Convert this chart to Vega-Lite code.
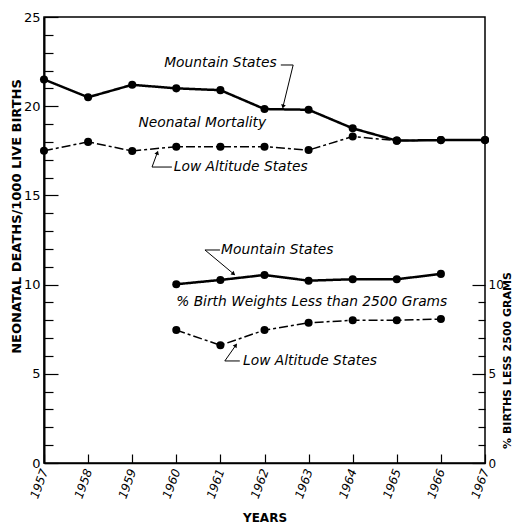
{
  "$schema": "https://vega.github.io/schema/vega-lite/v6.json",
  "width": 441,
  "height": 446,
  "autosize": {"type": "none"},
  "padding": {"left": 44, "top": 17, "right": 28, "bottom": 63},
  "background": "white",
  "config": {
    "view": {"stroke": "black", "strokeWidth": 1.5},
    "font": "DejaVu Sans",
    "axis": {"grid": false, "labelOverlap": false, "labelFlush": false, "domainColor": "black", "tickColor": "black", "labelColor": "black", "titleColor": "black", "labelFont": "DejaVu Sans", "titleFont": "DejaVu Sans"}
  },
  "datasets": {
    "neo": [
      {"year": 1957, "value": 21.5, "series": "Mountain States"},
      {"year": 1958, "value": 20.5, "series": "Mountain States"},
      {"year": 1959, "value": 21.2, "series": "Mountain States"},
      {"year": 1960, "value": 21.0, "series": "Mountain States"},
      {"year": 1961, "value": 20.9, "series": "Mountain States"},
      {"year": 1962, "value": 19.84, "series": "Mountain States"},
      {"year": 1963, "value": 19.8, "series": "Mountain States"},
      {"year": 1964, "value": 18.76, "series": "Mountain States"},
      {"year": 1965, "value": 18.07, "series": "Mountain States"},
      {"year": 1966, "value": 18.1, "series": "Mountain States"},
      {"year": 1967, "value": 18.1, "series": "Mountain States"},
      {"year": 1957, "value": 17.5, "series": "Low Altitude States"},
      {"year": 1958, "value": 18.0, "series": "Low Altitude States"},
      {"year": 1959, "value": 17.49, "series": "Low Altitude States"},
      {"year": 1960, "value": 17.73, "series": "Low Altitude States"},
      {"year": 1961, "value": 17.73, "series": "Low Altitude States"},
      {"year": 1962, "value": 17.73, "series": "Low Altitude States"},
      {"year": 1963, "value": 17.54, "series": "Low Altitude States"},
      {"year": 1964, "value": 18.3, "series": "Low Altitude States"},
      {"year": 1965, "value": 18.07, "series": "Low Altitude States"},
      {"year": 1966, "value": 18.1, "series": "Low Altitude States"},
      {"year": 1967, "value": 18.1, "series": "Low Altitude States"}
    ],
    "pct": [
      {"year": 1960, "value": 10.02, "series": "Mountain States"},
      {"year": 1961, "value": 10.26, "series": "Mountain States"},
      {"year": 1962, "value": 10.54, "series": "Mountain States"},
      {"year": 1963, "value": 10.22, "series": "Mountain States"},
      {"year": 1964, "value": 10.3, "series": "Mountain States"},
      {"year": 1965, "value": 10.3, "series": "Mountain States"},
      {"year": 1966, "value": 10.6, "series": "Mountain States"},
      {"year": 1960, "value": 7.45, "series": "Low Altitude States"},
      {"year": 1961, "value": 6.6, "series": "Low Altitude States"},
      {"year": 1962, "value": 7.45, "series": "Low Altitude States"},
      {"year": 1963, "value": 7.86, "series": "Low Altitude States"},
      {"year": 1964, "value": 8.0, "series": "Low Altitude States"},
      {"year": 1965, "value": 8.0, "series": "Low Altitude States"},
      {"year": 1966, "value": 8.07, "series": "Low Altitude States"}
    ],
    "notes": [
      {"year": 1961.0, "value": 22.42, "label": "Mountain States"},
      {"year": 1960.59, "value": 19.06, "label": "Neonatal Mortality"},
      {"year": 1961.46, "value": 16.59, "label": "Low Altitude States"},
      {"year": 1962.29, "value": 11.94, "label": "Mountain States"},
      {"year": 1963.07, "value": 9.02, "label": "% Birth Weights Less than 2500 Grams"},
      {"year": 1963.03, "value": 5.72, "label": "Low Altitude States"}
    ],
    "leaders": [
      {"year": 1962.37, "value": 22.31, "year2": 1962.65, "value2": 22.31, "tip": false},
      {"year": 1962.42, "value": 19.98, "year2": 1962.65, "value2": 22.31, "tip": true},
      {"year": 1959.9, "value": 16.59, "year2": 1959.45, "value2": 16.59, "tip": false},
      {"year": 1959.57, "value": 17.4, "year2": 1959.45, "value2": 16.59, "tip": true},
      {"year": 1960.99, "value": 11.94, "year2": 1960.65, "value2": 11.94, "tip": false},
      {"year": 1961.3, "value": 10.6, "year2": 1960.65, "value2": 11.94, "tip": true},
      {"year": 1961.44, "value": 5.72, "year2": 1961.1, "value2": 5.72, "tip": false},
      {"year": 1961.35, "value": 6.6, "year2": 1961.1, "value2": 5.72, "tip": true}
    ]
  },
  "encoding": {
    "x": {
      "field": "year", "type": "quantitative",
      "scale": {"domain": [1957, 1967], "nice": false, "zero": false},
      "axis": {
        "values": [1957, 1958, 1959, 1960, 1961, 1962, 1963, 1964, 1965, 1966, 1967],
        "format": "d", "labelAngle": -70, "labelAlign": "right", "labelBaseline": "middle",
        "tickSize": -9, "labelPadding": 15, "labelFontStyle": "italic", "labelFontSize": 12,
        "title": "YEARS", "titleFontSize": 12, "titleFontWeight": "bold", "titlePadding": 13,
        "domainWidth": 1.5, "tickWidth": 1.2
      }
    }
  },
  "layer": [
    {
      "encoding": {
        "y": {
          "field": "value", "type": "quantitative",
          "scale": {"domain": [0, 25], "nice": false},
          "axis": {
            "orient": "left",
            "values": [0, 1, 2, 3, 4, 5, 6, 7, 8, 9, 10, 11, 12, 13, 14, 15, 16, 17, 18, 19, 20, 21, 22, 23, 24, 25],
            "labelExpr": "datum.value % 5 === 0 ? datum.label : ''",
            "labelOverlap": false,
            "tickSize": {"condition": {"test": "datum.value % 5 === 0", "value": -14}, "value": -9},
            "labelPadding": 18, "labelFontSize": 13,
            "title": "NEONATAL DEATHS/1000 LIVE BIRTHS", "titleFontSize": 13, "titleFontWeight": "bold",
            "titleX": -28, "titleY": 199, "titleAlign": "center", "titleBaseline": "middle",
            "domainWidth": 2, "tickWidth": 1.2
          }
        }
      },
      "layer": [
        {
          "data": {"name": "neo"},
          "mark": {"type": "line", "color": "black"},
          "encoding": {
            "detail": {"field": "series"},
            "strokeDash": {"field": "series", "type": "nominal", "scale": {"domain": ["Mountain States", "Low Altitude States"], "range": [[1, 0], [9, 3, 3, 3]]}, "legend": null},
            "strokeWidth": {"field": "series", "type": "nominal", "scale": {"domain": ["Mountain States", "Low Altitude States"], "range": [2.5, 1.5]}, "legend": null}
          }
        },
        {
          "data": {"name": "neo"},
          "mark": {"type": "point", "filled": true, "shape": "circle", "size": 65, "color": "black", "opacity": 1}
        },
        {
          "data": {"name": "notes"},
          "mark": {"type": "text", "fontStyle": "italic", "fontSize": 13.8, "align": "center", "baseline": "middle", "color": "black"},
          "encoding": {"text": {"field": "label"}}
        },
        {
          "data": {"name": "leaders"},
          "mark": {"type": "rule", "color": "black", "strokeWidth": 1},
          "encoding": {
            "x2": {"field": "year2"},
            "y2": {"field": "value2"}
          }
        },
        {
          "data": {"name": "leaders"},
          "transform": [
            {"filter": "datum.tip"},
            {"calculate": "atan2((datum.year - datum.year2) * 44.1, (datum.value - datum.value2) * 17.84) * 180 / PI", "as": "ang"}
          ],
          "mark": {"type": "point", "filled": true, "shape": "triangle-up", "size": 22, "color": "black", "opacity": 1},
          "encoding": {
            "angle": {"field": "ang", "type": "quantitative", "scale": null}
          }
        }
      ]
    },
    {
      "data": {"name": "pct"},
      "encoding": {
        "y": {
          "field": "value", "type": "quantitative",
          "scale": {"domain": [0, 25], "nice": false},
          "axis": {
            "orient": "right",
            "values": [0, 1, 2, 3, 4, 5, 6, 7, 8, 9, 10],
            "labelExpr": "datum.value % 5 === 0 ? datum.label : ''",
            "labelOverlap": false,
            "tickSize": {"condition": {"test": "datum.value % 5 === 0", "value": -13}, "value": -7},
            "labelPadding": 16, "labelFontSize": 12,
            "title": "% BIRTHS LESS 2500 GRAMS", "titleFontSize": 11, "titleFontWeight": "bold", "titleAngle": -90,
            "titleX": 22, "titleY": 343, "titleAlign": "center", "titleBaseline": "middle",
            "domain": false, "tickWidth": 1.2
          }
        }
      },
      "layer": [
        {
          "mark": {"type": "line", "color": "black"},
          "encoding": {
            "detail": {"field": "series"},
            "strokeDash": {"field": "series", "type": "nominal", "scale": {"domain": ["Mountain States", "Low Altitude States"], "range": [[1, 0], [9, 3, 3, 3]]}, "legend": null},
            "strokeWidth": {"field": "series", "type": "nominal", "scale": {"domain": ["Mountain States", "Low Altitude States"], "range": [2.5, 1.5]}, "legend": null}
          }
        },
        {
          "mark": {"type": "point", "filled": true, "shape": "circle", "size": 65, "color": "black", "opacity": 1}
        }
      ]
    }
  ],
  "resolve": {"scale": {"y": "independent"}}
}
